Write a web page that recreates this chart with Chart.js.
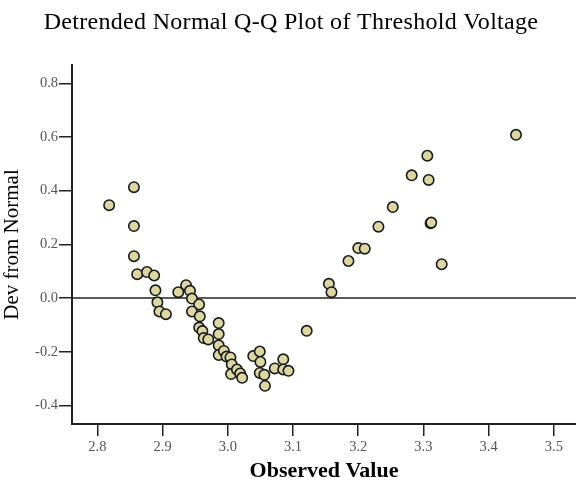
<!DOCTYPE html>
<html>
<head>
<meta charset="utf-8">
<script src="https://cdn.jsdelivr.net/npm/chart.js@4"></script>
<style>
  html, body { margin: 0; padding: 0; background: #fff; }
  #wrap { width: 576px; height: 483px; }
</style>
</head>
<body>
<div id="wrap"><canvas id="grafica"></canvas></div>
<script>
// valores observados (eje x) y desviación de la normal (eje y)
const observado = [
  2.818, 2.856, 2.856, 2.856, 2.861, 2.876, 2.887, 2.889, 2.892, 2.895,
  2.905, 2.924, 2.936, 2.942, 2.945, 2.956, 2.945, 2.957, 2.956, 2.961,
  2.963, 2.970, 2.986, 2.986, 2.986, 2.986, 2.994, 2.998, 3.004, 3.006,
  3.005, 3.014, 3.019, 3.022, 3.039, 3.049, 3.050, 3.049, 3.056, 3.057,
  3.072, 3.085, 3.085, 3.093, 3.121, 3.155, 3.159, 3.185, 3.200, 3.210,
  3.231, 3.253, 3.282, 3.306, 3.308, 3.311, 3.312, 3.328, 3.442
];
const desviacion = [
  0.346, 0.413, 0.268, 0.156, 0.089, 0.097, 0.084, 0.029, -0.016, -0.050,
  -0.060, 0.022, 0.048, 0.027, -0.002, -0.024, -0.050, -0.068, -0.110, -0.123,
  -0.149, -0.154, -0.093, -0.134, -0.176, -0.212, -0.197, -0.218, -0.221, -0.247,
  -0.283, -0.266, -0.281, -0.297, -0.216, -0.199, -0.238, -0.279, -0.286, -0.327,
  -0.262, -0.228, -0.266, -0.271, -0.122, 0.053, 0.022, 0.138, 0.186, 0.184,
  0.266, 0.339, 0.457, 0.530, 0.440, 0.279, 0.281, 0.126, 0.608
];

// marcas de los ejes
const ticksX = [2.8, 2.9, 3.0, 3.1, 3.2, 3.3, 3.4, 3.5];
const ticksY = [-0.4, -0.2, 0, 0.2, 0.4, 0.6, 0.8];

// límites de los ejes
const xMin = 2.761, xMax = 3.534;
const yMin = -0.469, yMax = 0.868;
// línea de referencia en cero
const refX = [xMin, xMax];
const refY = [0, 0];

const fuente = "'Liberation Serif', 'Times New Roman', serif";
const titulo = 'Detrended Normal Q-Q Plot of Threshold Voltage';

// título dibujado a mano para poder ajustar su espaciado
const tituloPlugin = {
  id: 'tituloPlugin',
  afterDraw(chart) {
    const c = chart.ctx;
    c.save();
    c.font = '24px ' + fuente;
    c.letterSpacing = '0.3px';
    c.fillStyle = '#000';
    c.textAlign = 'center';
    c.textBaseline = 'alphabetic';
    c.fillText(titulo, 291, 29);
    c.restore();
  }
};

const ctx = document.getElementById('grafica');

new Chart(ctx, {
  type: 'scatter',
  data: {
    datasets: [
      {
        type: 'line',
        data: refX.map((x, i) => ({ x: x, y: refY[i] })),
        borderColor: '#222',
        borderWidth: 1.5,
        pointRadius: 0,
        fill: false,
        order: 2
      },
      {
        data: observado.map((x, i) => ({ x: x, y: desviacion[i] })),
        backgroundColor: '#dcd7a2',
        borderColor: '#1a1a1a',
        borderWidth: 1.6,
        pointRadius: 5.2,
        pointHoverRadius: 5.2,
        order: 1
      }
    ]
  },
  options: {
    responsive: true,
    maintainAspectRatio: false,
    animation: false,
    layout: { autoPadding: false, padding: { left: 0, right: 0, top: 65, bottom: 0 } },
    scales: {
      x: {
        type: 'linear',
        min: xMin,
        max: xMax,
        afterBuildTicks: scale => {
          scale.ticks = ticksX.map(v => ({ value: v }));
        },
        afterFit: scale => { scale.height = 59; },
        ticks: {
          color: '#555',
          font: { family: fuente, size: 14.5 },
          padding: 2,
          maxRotation: 0,
          callback: v => v.toFixed(1)
        },
        grid: { drawOnChartArea: false, drawTicks: true, tickLength: 12, color: '#222', lineWidth: 1.5 },
        border: { display: true, color: '#222', width: 2 },
        title: {
          display: true,
          text: 'Observed Value',
          color: '#000',
          font: { family: fuente, size: 22, weight: 'bold' },
          padding: { top: 0, bottom: -2 }
        }
      },
      y: {
        type: 'linear',
        min: yMin,
        max: yMax,
        afterBuildTicks: scale => {
          scale.ticks = ticksY.map(v => ({ value: v }));
        },
        afterFit: scale => { scale.width = 72; },
        ticks: {
          color: '#555',
          font: { family: fuente, size: 14.5 },
          padding: 1,
          callback: v => v.toFixed(1)
        },
        grid: { drawOnChartArea: false, drawTicks: true, tickLength: 13, color: '#222', lineWidth: 1.5 },
        border: { display: true, color: '#222', width: 2 },
        title: {
          display: true,
          text: 'Dev from Normal',
          color: '#000',
          font: { family: fuente, size: 21 },
          padding: { top: 0, bottom: 0 }
        }
      }
    },
    plugins: {
      legend: { display: false },
      tooltip: { enabled: false },
      title: { display: false }
    }
  },
  plugins: [tituloPlugin]
});
</script>
</body>
</html>
